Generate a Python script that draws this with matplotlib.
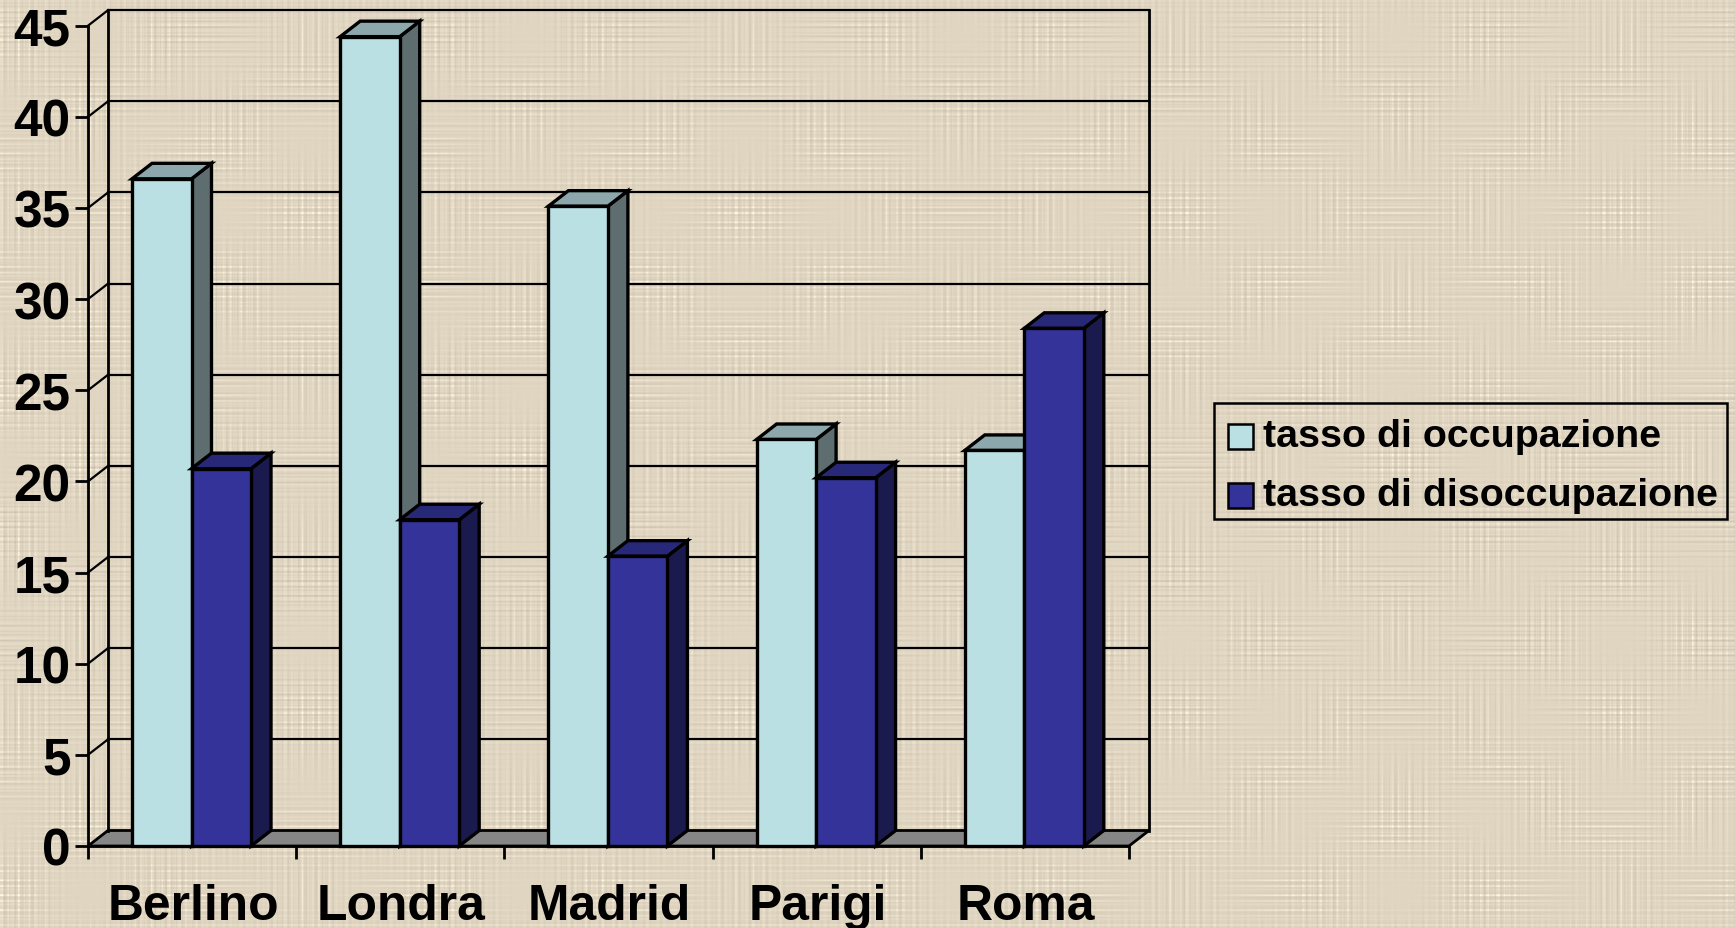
import numpy as np
import matplotlib
matplotlib.use("Agg")
import matplotlib.pyplot as plt
from matplotlib.patches import Polygon, Rectangle

cities = ["Berlino", "Londra", "Madrid", "Parigi", "Roma"]
occupazione = [36.6, 44.4, 35.1, 22.3, 21.7]
disoccupazione = [20.7, 17.9, 15.9, 20.2, 28.4]
yticks = [0, 5, 10, 15, 20, 25, 30, 35, 40, 45]
series_labels = ["tasso di occupazione", "tasso di disoccupazione"]

W, H = 1735, 929
plt.rcParams["font.family"] = ["Liberation Sans", "DejaVu Sans"]

fig = plt.figure(figsize=(W / 100, H / 100), dpi=100)

# woven paper background, a fixed pattern of uneven threads
xs = np.arange(W)
ys = np.arange(H)
cols = np.sin(xs * 1.13) + 0.8 * np.sin(xs * 0.71 + 1) + 0.6 * np.sin(xs * 2.37 + 2)
rows = np.sin(ys * 1.27 + 1) + 0.8 * np.sin(ys * 0.83) + 0.6 * np.sin(ys * 2.11 + 3)
xx, yy = np.meshgrid(xs, ys)
amp_c = 0.6 + 0.6 * np.sin(xx * 0.043 + 1) * np.sin(yy * 0.037)
amp_r = 0.6 + 0.6 * np.sin(yy * 0.051) * np.sin(xx * 0.029 + 2)
weave = cols[xx] * amp_c + rows[yy] * amp_r
shade = 224 + weave * 6 + np.clip(weave - 1.5, 0, None) * 7
bg = np.dstack([shade, shade * 0.955, shade * 0.865]).clip(0, 255).astype(np.uint8)
bg_ax = fig.add_axes([0, 0, 1, 1], zorder=0)
bg_ax.imshow(bg, aspect="auto", interpolation="bilinear")
bg_ax.axis("off")

# front plane of the chart, in pixels
x0, x1, y0, y45 = 88, 1129, 847, 26.7
ax = fig.add_axes([x0 / W, 1 - y0 / H, (x1 - x0) / W, (y0 - y45) / H], zorder=1)
ax.patch.set_alpha(0)
n = len(cities)
ax.set_xlim(0, n)
ax.set_ylim(0, 45)

# depth of the 3d look, in data units
dx = 20 / ((x1 - x0) / n)
dy = 15.5 / ((y0 - y45) / 45)
line = "black"


def poly(pts, fc, z, lw=2.4):
    ax.add_patch(Polygon(pts, closed=True, fc=fc, ec=line, lw=lw, zorder=z,
                         clip_on=False, joinstyle="miter"))


# floor, walls and gridlines with the slanted bit on the left wall
poly([(0, 0), (n, 0), (n + dx, dy), (dx, dy)], "#868686", 1, 2.0)
for v in yticks[1:]:
    ax.plot([dx, n + dx], [v + dy, v + dy], color=line, lw=1.6, zorder=1, clip_on=False)
    ax.plot([0, dx], [v, v + dy], color=line, lw=1.6, zorder=1, clip_on=False)
ax.plot([dx, dx], [dy, 45 + dy], color=line, lw=2.0, zorder=1, clip_on=False)
ax.plot([n + dx, n + dx], [dy, 45 + dy], color=line, lw=2.0, zorder=1, clip_on=False)

# bars
bw = 59.5 / ((x1 - x0) / n)
start = 44 / ((x1 - x0) / n)
colors = [("#BAE0E4", "#8CA8AC", "#5E6E70"), ("#333399", "#282878", "#1A1A4E")]
for i in range(n):
    for j, vals in enumerate([occupazione, disoccupazione]):
        v = vals[i]
        l = i + start + j * bw
        r = l + bw
        front, top, side = colors[j]
        z = 3 + i * 2 + j * 0.5
        poly([(r, 0), (r + dx, dy), (r + dx, v + dy), (r, v)], side, z)
        poly([(l, v), (r, v), (r + dx, v + dy), (l + dx, v + dy)], top, z)
        poly([(l, 0), (r, 0), (r, v), (l, v)], front, z + 0.1)

for s in ax.spines.values():
    s.set_visible(False)
ax.spines["left"].set_visible(True)
ax.spines["left"].set_linewidth(2.0)
ax.spines["bottom"].set_visible(True)
ax.spines["bottom"].set_linewidth(2.0)
ax.spines["bottom"].set_zorder(30)

ax.set_yticks(yticks)
ax.set_xticks(range(n + 1))
ax.set_xticklabels([])
ax.tick_params(axis="both", length=9.5, width=2.0, direction="out", color=line, pad=3)
ax.tick_params(axis="y", labelsize=37)
for t in ax.get_yticklabels():
    t.set_fontweight("bold")
for i, c in enumerate(cities):
    ax.text(i + 0.505, -3.3, c, ha="center", va="center", fontsize=35.8, fontweight="bold")

# legend box drawn in figure pixels
fig.add_artist(Rectangle((1214 / W, 1 - 520 / H), (1727 - 1214) / W, (520 - 404) / H,
                         transform=fig.transFigure, fc="none", ec="black", lw=1.8))
for k, (lab, c) in enumerate(zip(series_labels, colors)):
    yc = 437 + k * 59
    fig.add_artist(Rectangle((1227.5 / W, 1 - (yc + 12.5) / H), 25 / W, 25 / H,
                             transform=fig.transFigure, fc=c[0], ec="black", lw=1.8))
    fig.text(1263 / W, 1 - yc / H, lab, ha="left", va="center", fontsize=28.4, fontweight="bold")

fig.savefig("out.png", dpi=100)
